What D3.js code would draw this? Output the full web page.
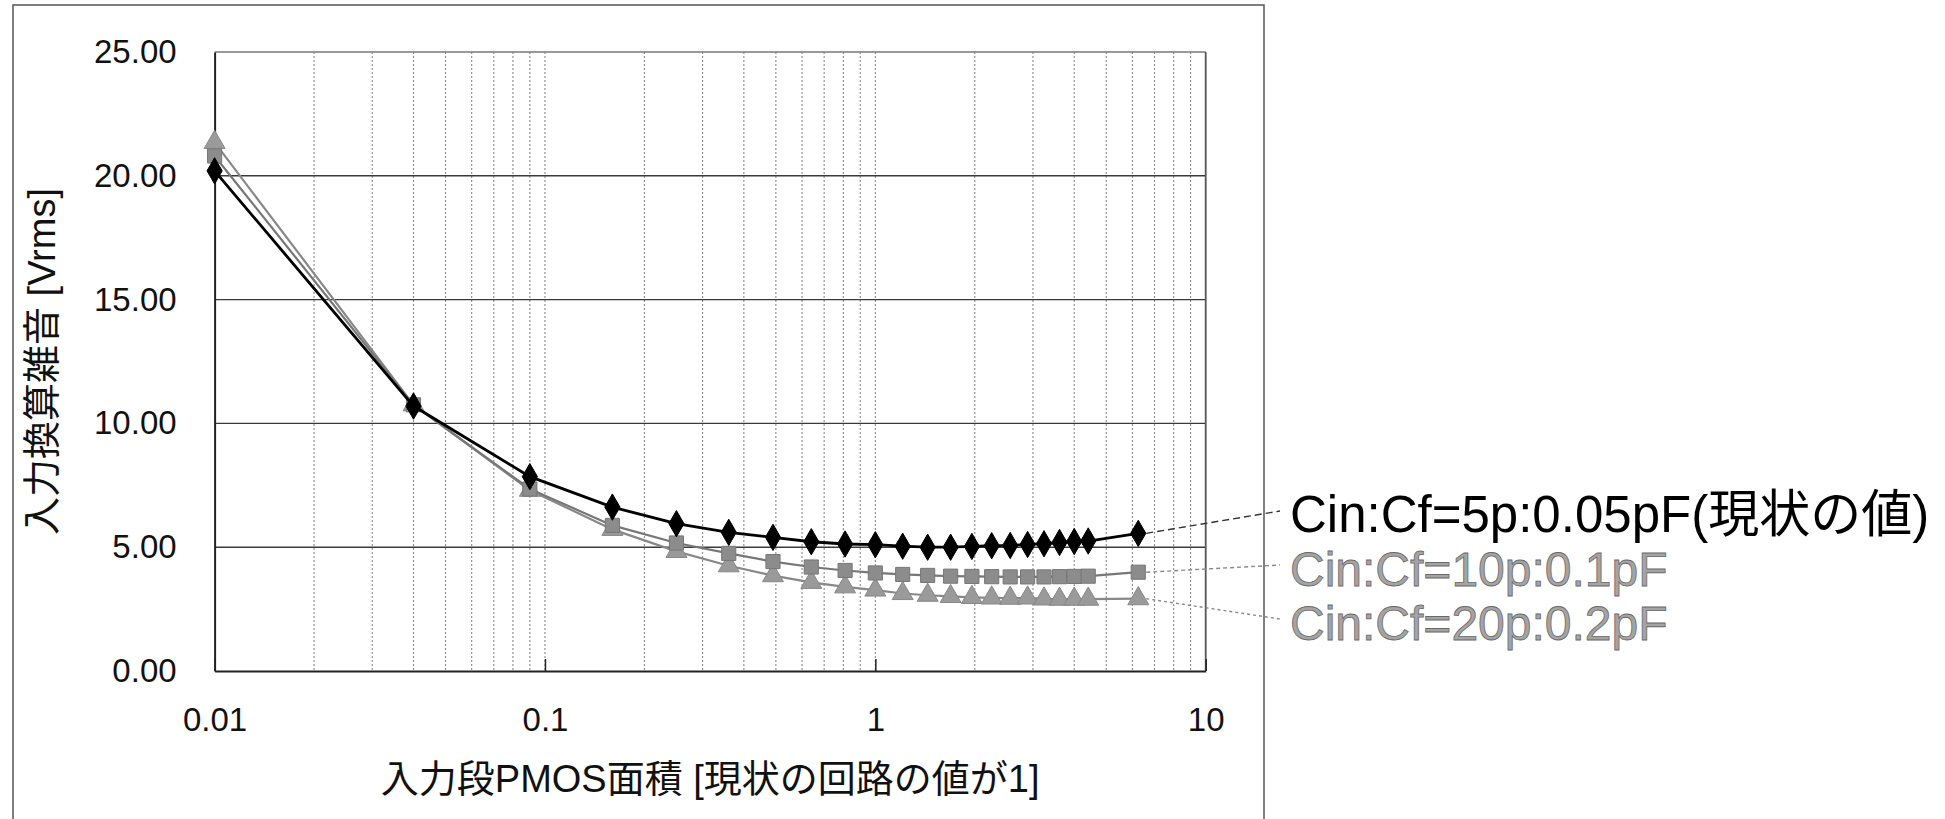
<!DOCTYPE html>
<html lang="ja">
<head>
<meta charset="utf-8">
<script src="https://cdn.jsdelivr.net/npm/d3@7"></script>
<style>
  html, body { margin: 0; padding: 0; background: #fff; }
  svg { display: block; }
  text { font-family: "Liberation Sans", Arial, "Noto Sans CJK JP", sans-serif; }
</style>
</head>
<body>
<svg id="chart" width="1945" height="819"></svg>
<script>
// Input-stage PMOS area (relative to the present circuit = 1)
const areaRatio = [0.01, 0.04, 0.09, 0.16, 0.25, 0.36, 0.49, 0.64, 0.81, 1.00, 1.21,
                   1.44, 1.69, 1.96, 2.25, 2.56, 2.89, 3.24, 3.61, 4.00, 4.41, 6.25];

// Input-referred noise [Vrms] for each Cin:Cf setting
const noise5p  = [20.20, 10.70, 7.85, 6.62, 5.95, 5.60, 5.40, 5.22, 5.13, 5.10, 5.04,
                  5.00, 5.00, 5.03, 5.06, 5.07, 5.11, 5.14, 5.19, 5.23, 5.25, 5.56];
const noise10p = [20.80, 10.75, 7.35, 5.88, 5.17, 4.75, 4.42, 4.20, 4.06, 3.96, 3.90,
                  3.86, 3.83, 3.82, 3.81, 3.80, 3.80, 3.80, 3.81, 3.82, 3.83, 3.99];
const noise20p = [21.35, 10.75, 7.30, 5.72, 4.83, 4.25, 3.85, 3.58, 3.40, 3.27, 3.13,
                  3.06, 3.01, 2.97, 2.95, 2.94, 2.95, 2.91, 2.90, 2.90, 2.90, 2.92];

const seriesNames = ["Cin:Cf=5p:0.05pF(現状の値)", "Cin:Cf=10p:0.1pF", "Cin:Cf=20p:0.2pF"];

const xTickValues = [0.01, 0.1, 1, 10];
const yTickValues = [0, 5, 10, 15, 20, 25];

const xTitle = "入力段PMOS面積 [現状の回路の値が1]";
const yTitle = "入力換算雑音 [Vrms]";

// ---- layout ----
const svg = d3.select("#chart");
const plot = { left: 214.6, right: 1205.7, top: 52, bottom: 671 };

const x = d3.scaleLog().domain([0.01, 10]).range([plot.left, plot.right]);
const y = d3.scaleLinear().domain([0, 25]).range([plot.bottom, plot.top]);

svg.append("rect").attr("width", 1945).attr("height", 819).attr("fill", "#fff");

// outer chart frame (open at the bottom edge of the page)
svg.append("rect")
  .attr("x", 13).attr("y", 5).attr("width", 1251).attr("height", 840)
  .attr("fill", "none").attr("stroke", "#555").attr("stroke-width", 1.5);

// vertical dotted grid on every log tick
const gridX = x.ticks().filter(v => v > 0.01 + 1e-9 && v < 10 - 1e-9);
svg.append("g").selectAll("line").data(gridX).join("line")
  .attr("x1", d => x(d)).attr("x2", d => x(d))
  .attr("y1", plot.top).attr("y2", plot.bottom)
  .attr("stroke", "#8a8a8a").attr("stroke-width", 1.1)
  .attr("stroke-dasharray", "2,2");

// horizontal major grid
svg.append("g").selectAll("line").data(yTickValues.filter(v => v > 0 && v < 25)).join("line")
  .attr("x1", plot.left).attr("x2", plot.right)
  .attr("y1", d => y(d)).attr("y2", d => y(d))
  .attr("stroke", "#3a3a3a").attr("stroke-width", 1.4);

// plot area border
svg.append("line").attr("x1", plot.left).attr("x2", plot.right)
  .attr("y1", plot.top).attr("y2", plot.top)
  .attr("stroke", "#777").attr("stroke-width", 1.6);
svg.append("line").attr("x1", plot.right).attr("x2", plot.right)
  .attr("y1", plot.top).attr("y2", plot.bottom)
  .attr("stroke", "#555").attr("stroke-width", 1.8);

// axes
const xAxis = d3.axisBottom(x)
  .tickValues(xTickValues)
  .tickFormat(d => String(d))
  .tickSizeInner(-12).tickSizeOuter(0).tickPadding(37);
const gx = svg.append("g").attr("transform", `translate(0,${plot.bottom})`).call(xAxis);
gx.select(".domain").attr("stroke", "#222").attr("stroke-width", 2);
gx.selectAll(".tick line").attr("stroke", "#222").attr("stroke-width", 1.5);
gx.selectAll(".tick text").attr("font-size", 33).attr("fill", "#111")
  .attr("font-family", "'Liberation Sans', Arial, sans-serif");

const yAxis = d3.axisLeft(y)
  .tickValues(yTickValues)
  .tickFormat(d3.format(".2f"))
  .tickSizeInner(0).tickSizeOuter(0).tickPadding(38);
const gy = svg.append("g").attr("transform", `translate(${plot.left},0)`).call(yAxis);
gy.select(".domain").attr("stroke", "#222").attr("stroke-width", 2);
gy.selectAll(".tick text").attr("font-size", 33).attr("fill", "#111")
  .attr("font-family", "'Liberation Sans', Arial, sans-serif");

// axis titles
svg.append("text")
  .attr("x", (plot.left + plot.right) / 2).attr("y", 792)
  .attr("text-anchor", "middle").attr("font-size", 38).attr("fill", "#111")
  .text(xTitle);
svg.append("text")
  .attr("transform", `translate(55,${(plot.top + plot.bottom) / 2}) rotate(-90)`)
  .attr("text-anchor", "middle").attr("font-size", 38).attr("fill", "#111")
  .text(yTitle);

// ---- series ----
const series = [
  { name: seriesNames[0], values: noise5p,  line: "#000",    lw: 2.8, fill: "#000",    stroke: "#000",
    symbol: d3.symbolDiamond, size: 200, text: "#000", textStroke: "none", fs: 51,
    leader: "#333", dash: "7,4" },
  { name: seriesNames[1], values: noise10p, line: "#777", lw: 2.2, fill: "#8c8c8c", stroke: "#777",
    symbol: d3.symbolSquare, size: 200, text: "#a4a4a4", textStroke: "#6a6a6a", fs: 48,
    leader: "#8a8a8a", dash: "4,3" },
  { name: seriesNames[2], values: noise20p, line: "#888", lw: 2.2, fill: "#9a9a9a", stroke: "#888",
    symbol: d3.symbolTriangle, size: 190, text: "#a4a4a4", textStroke: "#6a6a6a", fs: 48,
    leader: "#8a8a8a", dash: "3,3" }
];

const lineGen = d3.line().x(d => x(d[0])).y(d => y(d[1]));

// draw lighter series first so the black curve sits on top
[...series].reverse().forEach(s => {
  const pts = areaRatio.map((a, i) => [a, s.values[i]]);
  const g = svg.append("g");
  g.append("path").attr("d", lineGen(pts))
    .attr("fill", "none").attr("stroke", s.line).attr("stroke-width", s.lw);
  g.selectAll("path.m").data(pts).join("path").attr("class", "m")
    .attr("transform", d => `translate(${x(d[0])},${y(d[1])})`)
    .attr("d", d3.symbol().type(s.symbol).size(s.size))
    .attr("fill", s.fill).attr("stroke", s.stroke).attr("stroke-width", 1);
});

// ---- labels with leader lines from the last point ----
const labelX = 1290;
const labelBase = 532;
const labelStep = 54;
series.forEach((s, i) => {
  const base = labelBase + i * labelStep;
  const last = s.values.length - 1;
  svg.append("line")
    .attr("x1", x(areaRatio[last]) + 8).attr("y1", y(s.values[last]))
    .attr("x2", labelX - 10).attr("y2", base - 21)
    .attr("stroke", s.leader).attr("stroke-width", 1.4)
    .attr("stroke-dasharray", s.dash);
  svg.append("text")
    .attr("x", labelX).attr("y", base)
    .attr("font-size", s.fs)
    .attr("fill", s.text)
    .attr("stroke", s.textStroke).attr("stroke-width", s.textStroke === "none" ? 0 : 0.8)
    .text(s.name);
});
</script>
</body>
</html>
